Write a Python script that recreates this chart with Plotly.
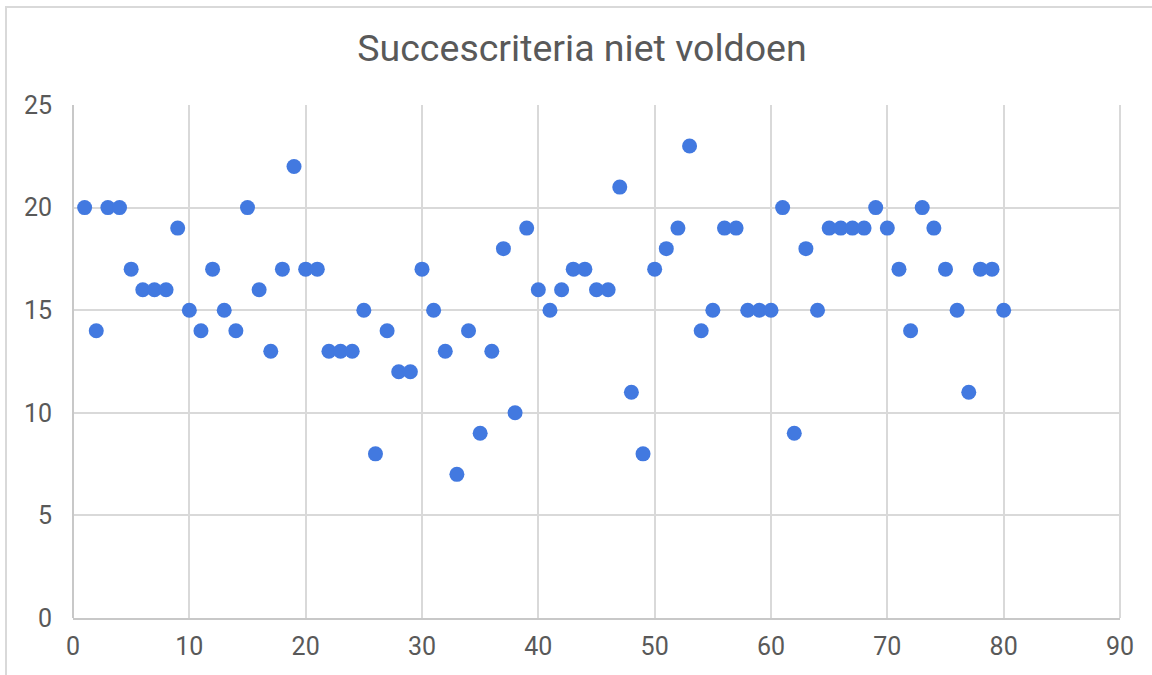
import plotly.graph_objects as go

x_values = list(range(1, 81))
y_values = [
    20, 14, 20, 20, 17, 16, 16, 16, 19, 15,
    14, 17, 15, 14, 20, 16, 13, 17, 22, 17,
    17, 13, 13, 13, 15, 8, 14, 12, 12, 17,
    15, 13, 7, 14, 9, 13, 18, 10, 19, 16,
    15, 16, 17, 17, 16, 16, 21, 11, 8, 17,
    18, 19, 23, 14, 15, 19, 19, 15, 15, 15,
    20, 9, 18, 15, 19, 19, 19, 19, 20, 19,
    17, 14, 20, 19, 17, 15, 11, 17, 17, 15,
]
title_text = "Succescriteria niet voldoen"
x_ticks = [0, 10, 20, 30, 40, 50, 60, 70, 80, 90]
y_ticks = [0, 5, 10, 15, 20, 25]

fig = go.Figure()
fig.add_trace(go.Scatter(
    x=x_values, y=y_values, mode="markers",
    marker=dict(size=15, color="#4279E0", line=dict(width=0)),
    showlegend=False,
))

font_color = "#595959"
grid_color = "#D9D9D9"

fig.update_layout(
    width=1152, height=675,
    paper_bgcolor="white", plot_bgcolor="white",
    margin=dict(l=73, r=32, t=105, b=57),
    font=dict(family="Roboto", color=font_color, size=25),
    title=dict(text=title_text, xref="container", x=582 / 1152, xanchor="center",
               y=1 - 48 / 675, yanchor="middle",
               font=dict(family="Roboto", size=37.5, color=font_color)),
    xaxis=dict(range=[0, 90], tickvals=x_ticks, showgrid=True, gridcolor=grid_color,
               gridwidth=1.5, zeroline=False, showline=True, linecolor="#C8C8C8", linewidth=2,
               mirror=False, ticks="", tickfont=dict(size=25, color=font_color), ticklabelstandoff=5),
    yaxis=dict(range=[0, 25], tickvals=y_ticks, showgrid=True, gridcolor=grid_color,
               gridwidth=1.5, zeroline=False, showline=False, ticks="",
               tickfont=dict(size=25, color=font_color), ticklabelstandoff=20),
    shapes=[
        dict(type="rect", xref="paper", yref="paper", x0=(6 - 73) / 1047, x1=1.1, y0=-0.2,
             y1=(618 - 7) / 513,
             line=dict(color="#D9D9D9", width=2), fillcolor="rgba(0,0,0,0)", layer="below"),
        dict(type="line", xref="paper", yref="paper", x0=0, x1=0, y0=0, y1=1,
             line=dict(color="#C8C8C8", width=2)),
        dict(type="line", xref="paper", yref="paper", x0=1, x1=1, y0=0, y1=1,
             line=dict(color="#D9D9D9", width=2)),
    ],
)

fig.write_html("out.html", config={"displayModeBar": False},
               post_script="document.body.style.margin='0px';")
